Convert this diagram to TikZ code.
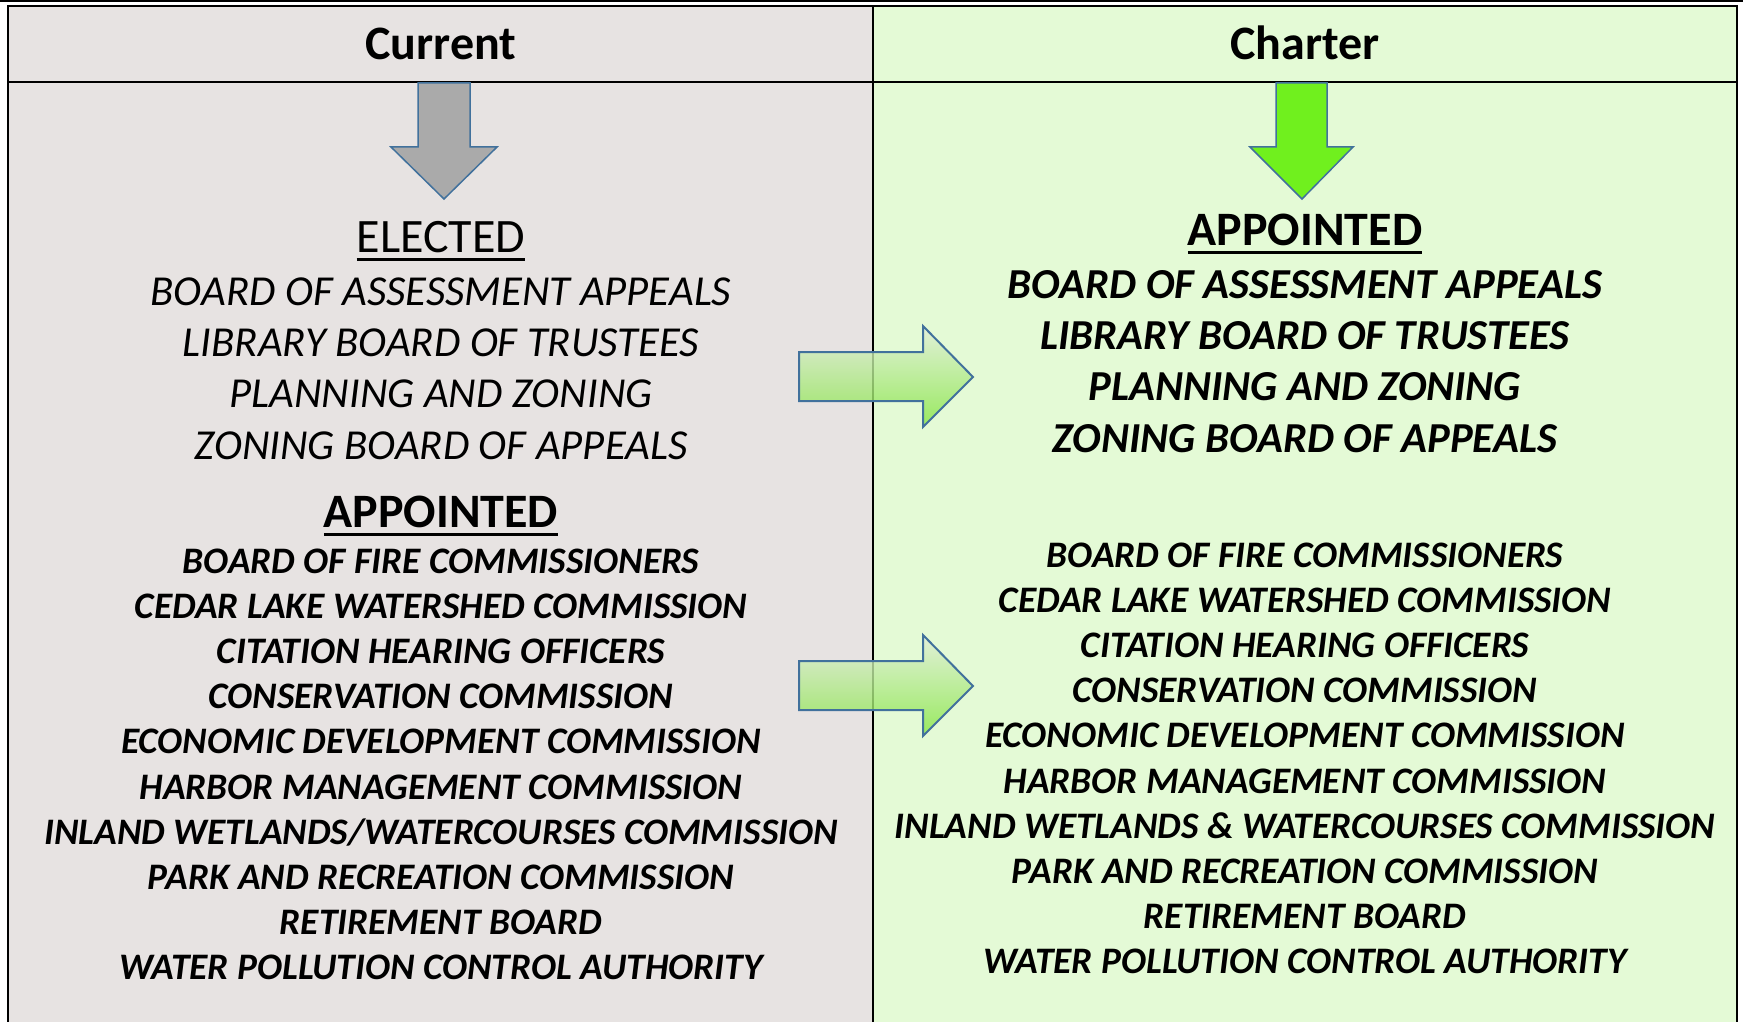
\documentclass[tikz,border=0pt]{standalone}
\usepackage{fontspec}
\setmainfont{Carlito}
\usepackage{xcolor}
\usepackage{tikz}
\usetikzlibrary{positioning}

\definecolor{curbg}{HTML}{E7E3E2}
\definecolor{charbg}{HTML}{E4FAD6}
\definecolor{arrline}{HTML}{41719C}
\definecolor{arrgray}{HTML}{AAAAAA}
\definecolor{arrgreen}{HTML}{70F01E}
\definecolor{shadetop}{HTML}{E2EEDA}
\definecolor{shadebot}{HTML}{86E642}

\newcommand{\undl}[1]{\setbox0\hbox{#1}\rlap{\rule[-8.5pt]{\wd0}{3pt}}\box0}

\begin{document}
\begin{tikzpicture}[
		x=1pt, y=-1pt,
		node distance=7.8pt,
		colhead/.style={font=\fontsize{48}{52}\selectfont\bfseries, inner sep=0pt, anchor=base},
		grphead/.style={font=\fontsize{48}{52}\selectfont, inner sep=0pt, anchor=base},
		bigitem/.style={font=\fontsize{42.7}{48}\selectfont\itshape, inner sep=0pt, text height=33pt, text depth=6pt},
		bigbold/.style={bigitem, font=\fontsize{42.7}{48}\selectfont\bfseries\itshape},
		item/.style={font=\fontsize{37.4}{42}\selectfont\bfseries\itshape, inner sep=0pt, text height=30pt, text depth=7pt},
		downarr/.style={draw=arrline, line width=1.5pt, line join=miter},
		sidearr/.style={draw=arrline, line width=2pt, line join=miter, top color=shadetop, bottom color=shadebot, fill opacity=0.8}
		]
		\useasboundingbox (0,0) rectangle (1743,1022);
		
		% Table
		\fill[white] (0,0) rectangle (1743,1022);
		\fill[curbg] (8,6) rectangle (873,1022);
		\fill[charbg] (873,6) rectangle (1737,1022);
		\draw[line width=2.4pt] (0,1.2) -- (1743,1.2);
		\draw[line width=2pt] (8,1022) -- (8,6) -- (1737,6) -- (1737,1022);
		\draw[line width=2pt] (8,82) -- (1737,82);
		\draw[line width=2pt] (873,6) -- (873,1022);
		
		% Column heads
		\node[colhead] (cur) at (441,60) {Current};
		\node[colhead] (cha) at (1305,60) {Charter};
		
		% Down arrows
		\draw[downarr, fill=arrgray] (418,83) -- (470,83) -- (470,147) -- (497,147) -- (444,199) -- (391,147) -- (418,147) -- cycle;
		\draw[downarr, fill=arrgreen] (1276,83) -- (1327,83) -- (1327,147) -- (1353,147) -- (1302,199) -- (1250,147) -- (1276,147) -- cycle;
		
		% Current
		\node[grphead] (elec) at (441,252) {\undl{ELECTED}};
		\node[bigitem, anchor=base] (ce1) at (441,305) {BOARD OF ASSESSMENT APPEALS};
		\node[bigitem, below=12pt of ce1] (ce2) {LIBRARY BOARD OF TRUSTEES};
		\node[bigitem, below=12pt of ce2] (ce3) {PLANNING AND ZONING};
		\node[bigitem, below=12pt of ce3] (ce4) {ZONING BOARD OF APPEALS};
		
		\node[grphead, font=\fontsize{48}{52}\selectfont\bfseries] (capp) at (441,527) {\undl{APPOINTED}};
		\node[item, anchor=base] (ca1) at (441,573) {BOARD OF FIRE COMMISSIONERS};
		\node[item, below=of ca1] (ca2) {CEDAR LAKE WATERSHED COMMISSION};
		\node[item, below=of ca2] (ca3) {CITATION HEARING OFFICERS};
		\node[item, below=of ca3] (ca4) {CONSERVATION COMMISSION};
		\node[item, below=of ca4] (ca5) {ECONOMIC DEVELOPMENT COMMISSION};
		\node[item, below=of ca5] (ca6) {HARBOR MANAGEMENT COMMISSION};
		\node[item, below=of ca6] (ca7) {INLAND WETLANDS/WATERCOURSES COMMISSION};
		\node[item, below=of ca7] (ca8) {PARK AND RECREATION COMMISSION};
		\node[item, below=of ca8] (ca9) {RETIREMENT BOARD};
		\node[item, below=of ca9] (ca10) {WATER POLLUTION CONTROL AUTHORITY};
		
		% Charter
		\node[grphead, font=\fontsize{48}{52}\selectfont\bfseries] (happ) at (1305,245) {\undl{APPOINTED}};
		\node[bigbold, anchor=base] (he1) at (1305,298) {BOARD OF ASSESSMENT APPEALS};
		\node[bigbold, below=12pt of he1] (he2) {LIBRARY BOARD OF TRUSTEES};
		\node[bigbold, below=12pt of he2] (he3) {PLANNING AND ZONING};
		\node[bigbold, below=12pt of he3] (he4) {ZONING BOARD OF APPEALS};
		
		\node[item, anchor=base] (ha1) at (1305,567) {BOARD OF FIRE COMMISSIONERS};
		\node[item, below=of ha1] (ha2) {CEDAR LAKE WATERSHED COMMISSION};
		\node[item, below=of ha2] (ha3) {CITATION HEARING OFFICERS};
		\node[item, below=of ha3] (ha4) {CONSERVATION COMMISSION};
		\node[item, below=of ha4] (ha5) {ECONOMIC DEVELOPMENT COMMISSION};
		\node[item, below=of ha5] (ha6) {HARBOR MANAGEMENT COMMISSION};
		\node[item, below=of ha6] (ha7) {INLAND WETLANDS \& WATERCOURSES COMMISSION};
		\node[item, below=of ha7] (ha8) {PARK AND RECREATION COMMISSION};
		\node[item, below=of ha8] (ha9) {RETIREMENT BOARD};
		\node[item, below=of ha9] (ha10) {WATER POLLUTION CONTROL AUTHORITY};
		
		% Arrows across
		\draw[sidearr] (799,352) -- (923,352) -- (923,326) -- (973,377) -- (923,427) -- (923,401) -- (799,401) -- cycle;
		\draw[sidearr] (799,661) -- (923,661) -- (923,635) -- (973,686) -- (923,736) -- (923,710) -- (799,710) -- cycle;
		
	\end{tikzpicture}
\end{document}
